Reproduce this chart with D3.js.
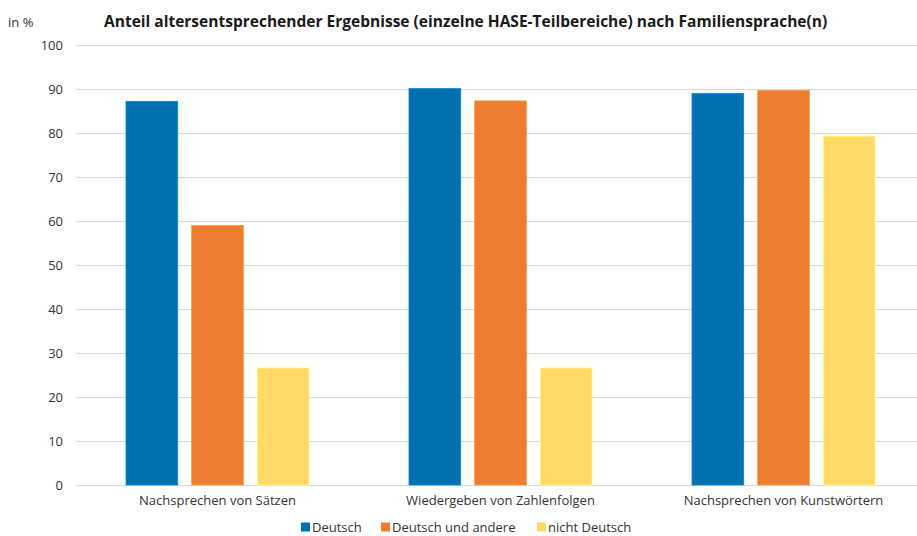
<!DOCTYPE html>
<html>
<head>
<meta charset="utf-8">
<script src="https://cdn.jsdelivr.net/npm/d3@7"></script>
<style>
  html, body { margin: 0; padding: 0; background: #fff; }
  svg { display: block; font-family: "Open Sans", Lato, sans-serif; }
</style>
</head>
<body>
<svg id="chart" width="917" height="536"></svg>
<script>
// HASE sub-areas and language groups
const categories = ["Nachsprechen von Sätzen", "Wiedergeben von Zahlenfolgen", "Nachsprechen von Kunstwörtern"];
const seriesNames = ["Deutsch", "Deutsch und andere", "nicht Deutsch"];
const deutsch = [87.2, 90.1, 89.0];
const deutschUndAndere = [59.0, 87.3, 89.7];
const nichtDeutsch = [26.6, 26.6, 79.3];
const yTicks = [0, 10, 20, 30, 40, 50, 60, 70, 80, 90, 100];
const colors = ["#0070AF", "#ED7D31", "#FFD966"];

const seriesValues = [deutsch, deutschUndAndere, nichtDeutsch];
const rows = categories.map((c, i) => ({
  category: c,
  values: seriesNames.map((s, j) => ({ series: s, value: seriesValues[j][i] }))
}));

const svg = d3.select("#chart");
const W = 917;
const margin = { left: 76, right: -8, top: 45, bottom: 51 };
const H = 536;
const FONT = "'Open Sans', Lato, sans-serif";

const y = d3.scaleLinear().domain([0, 100]).range([H - margin.bottom, margin.top]);
const x0 = d3.scaleBand().domain(categories).range([margin.left, W - margin.right]).paddingInner(0).paddingOuter(0);
const x1 = d3.scaleBand().domain(seriesNames).range([50, x0.bandwidth() - 50]).paddingInner(0.212).paddingOuter(0);
const color = d3.scaleOrdinal().domain(seriesNames).range(colors);

// Gridlines
svg.append("g")
  .selectAll("line")
  .data(yTicks)
  .join("line")
  .attr("x1", margin.left)
  .attr("x2", W)
  .attr("y1", d => y(d) + 0.5)
  .attr("y2", d => y(d) + 0.5)
  .attr("stroke", "#d9d9d9")
  .attr("stroke-width", 1);

// Y axis labels
const yAxis = d3.axisLeft(y).tickValues(yTicks).tickSize(0).tickPadding(0);
const yg = svg.append("g").attr("transform", `translate(63,0)`).call(yAxis);
yg.select(".domain").remove();
yg.selectAll("text").attr("font-size", 13).attr("fill", "#333").attr("font-family", FONT);

// Bars
const groups = svg.append("g")
  .selectAll("g")
  .data(rows)
  .join("g")
  .attr("transform", d => `translate(${x0(d.category)},0)`);

groups.selectAll("rect")
  .data(d => d.values)
  .join("rect")
  .attr("x", d => x1(d.series))
  .attr("width", x1.bandwidth())
  .attr("y", d => y(d.value))
  .attr("height", d => y(0) - y(d.value))
  .attr("fill", d => color(d.series))
  .attr("stroke", d => d3.color(color(d.series)).brighter(0.6))
  .attr("stroke-width", 0.8);

// X axis labels
const xAxis = d3.axisBottom(x0).tickSize(0).tickPadding(0);
const xg = svg.append("g").attr("transform", `translate(0,${y(0) + 11})`).call(xAxis);
xg.select(".domain").remove();
xg.selectAll("text").attr("font-size", 13).attr("fill", "#333").attr("font-family", FONT).attr("dy", "0.71em");

// Title and unit
const title = svg.append("text")
  .attr("x", 104).attr("y", 27)
  .attr("font-size", 15).attr("font-weight", "bold").attr("fill", "#1a1a1a")
  .attr("font-family", FONT)
  .text("Anteil altersentsprechender Ergebnisse (einzelne HASE-Teilbereiche) nach Familiensprache(n)");
// fit the title to its span across the top
const tw = title.node().getComputedTextLength();
title.attr("font-size", 15 * 724 / tw);

svg.append("text")
  .attr("x", 8).attr("y", 27)
  .attr("font-size", 13).attr("fill", "#333")
  .text("in %");

// Legend
const legendX = [301, 381, 537];
const legend = svg.append("g")
  .selectAll("g")
  .data(seriesNames)
  .join("g")
  .attr("transform", (d, i) => `translate(${legendX[i]},527)`);
legend.append("rect").attr("x", 0).attr("y", -4.5).attr("width", 9).attr("height", 9).attr("fill", d => color(d));
legend.append("text").attr("x", 11).attr("y", 0).attr("dy", "0.35em")
  .attr("font-size", 13).attr("fill", "#333").text(d => d);
</script>
</body>
</html>
